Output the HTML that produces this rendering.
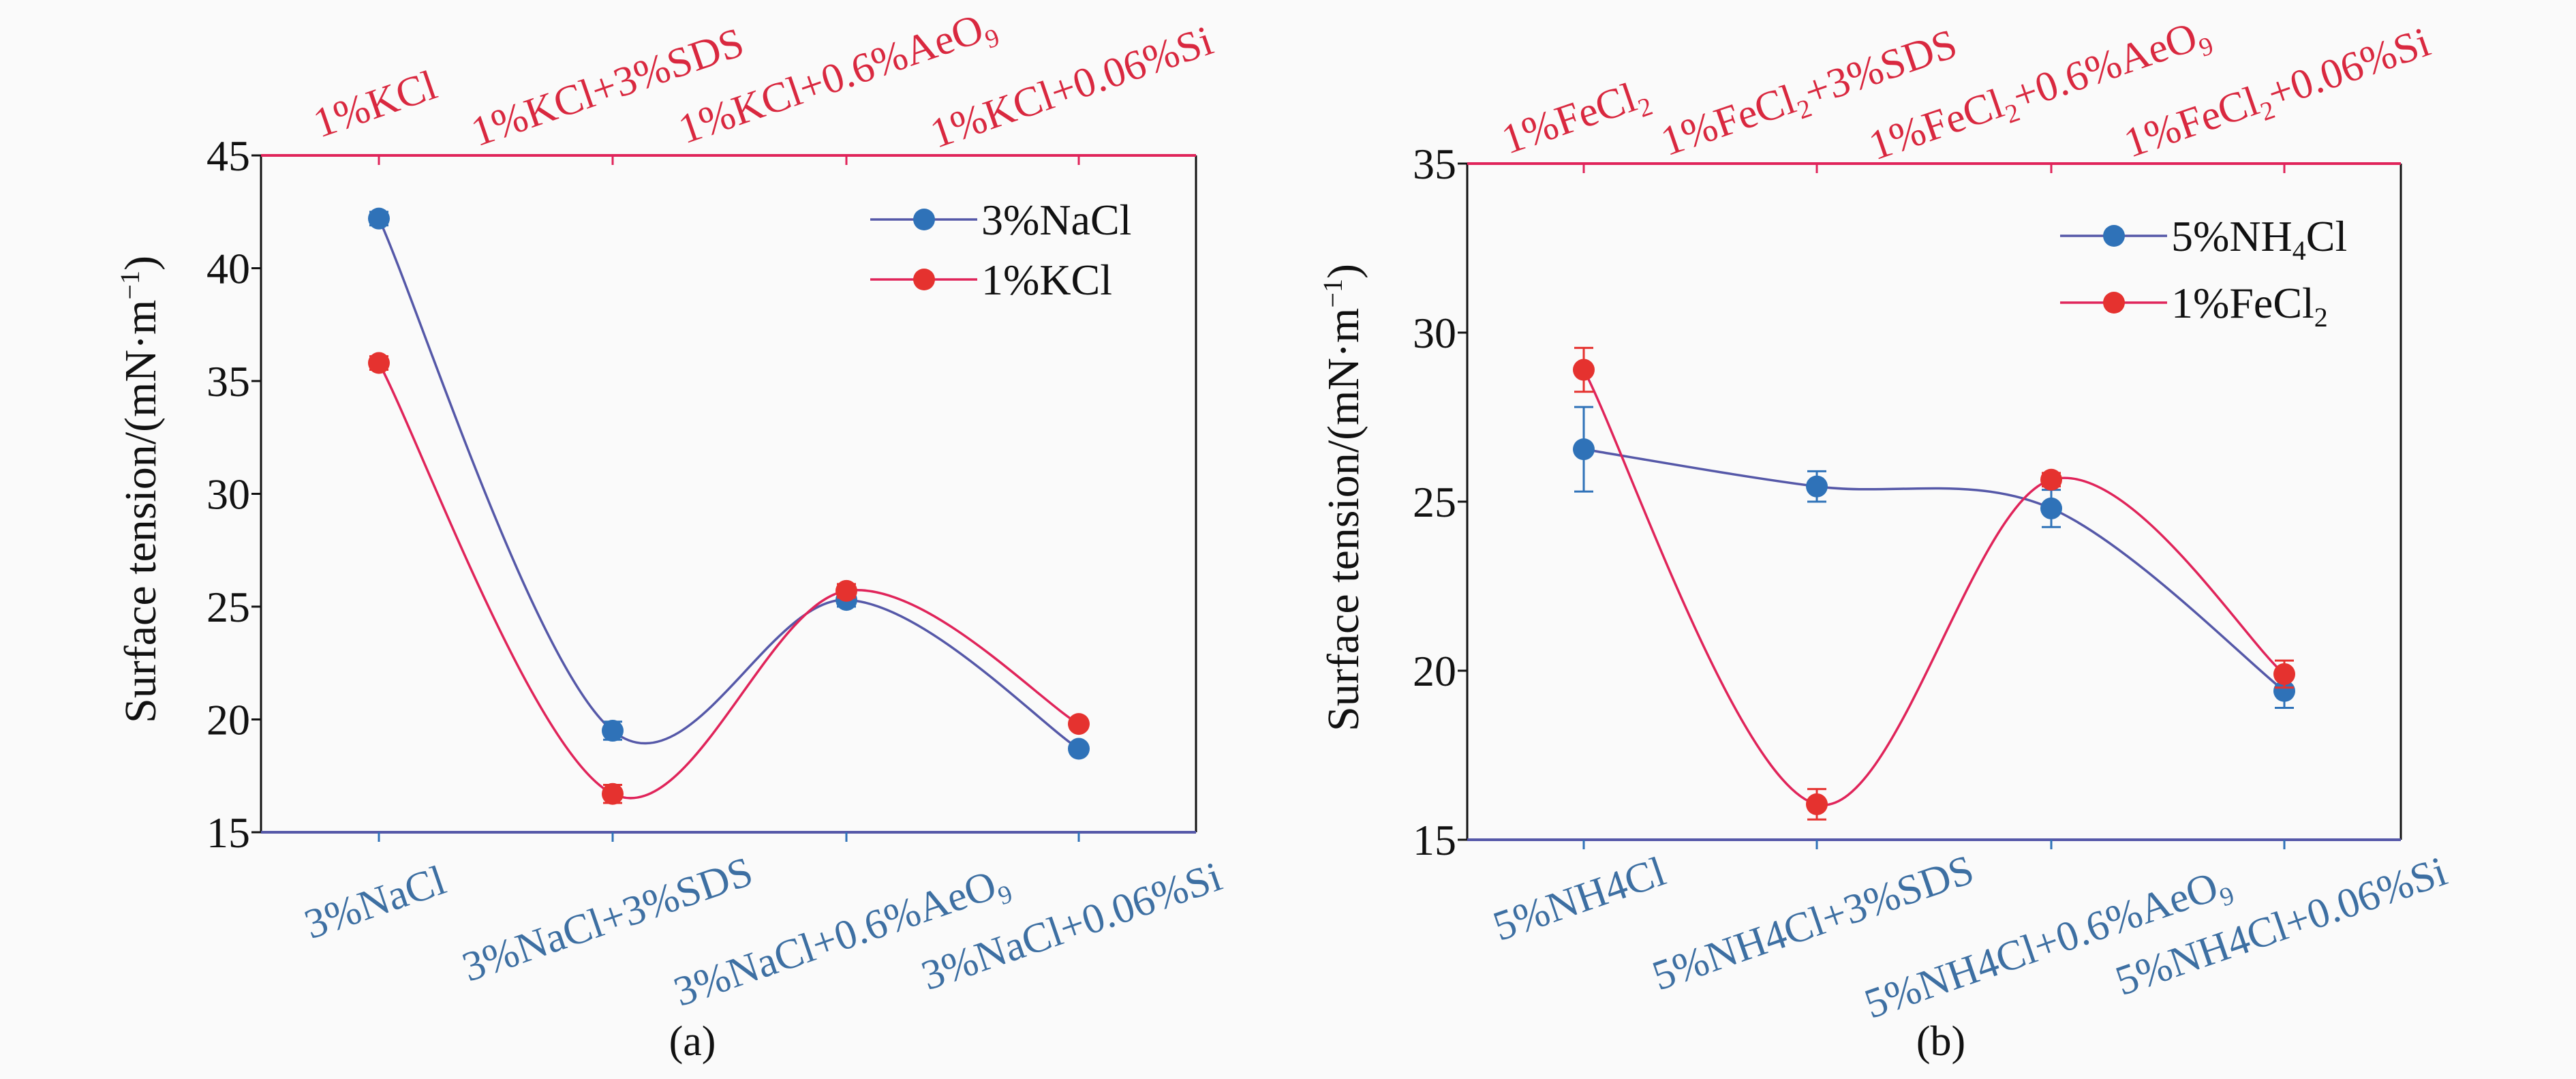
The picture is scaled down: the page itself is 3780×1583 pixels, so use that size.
<!DOCTYPE html>
<html><head><meta charset="utf-8">
<style>
html,body{margin:0;padding:0;background:#fafafa;}
svg{display:block;}
text{font-family:"Liberation Serif","DejaVu Serif","Times New Roman",serif;}
</style></head>
<body>
<svg id="fig" width="3780" height="1583" viewBox="0 0 3780 1583" xmlns="http://www.w3.org/2000/svg" font-family="Liberation Serif, DejaVu Serif, serif">
<rect x="0" y="0" width="3780" height="1583" fill="#fafafa"/>
<g id="ca"></g>
<g id="cb"></g>
</svg>
<script>
// ---------- Chart (a) data ----------
const catsA = ["3%NaCl", "3%NaCl+3%SDS", "3%NaCl+0.6%AeO", "3%NaCl+0.06%Si"];
const subA = ["", "", "9", ""];
const topCatsA = ["1%KCl", "1%KCl+3%SDS", "1%KCl+0.6%AeO", "1%KCl+0.06%Si"];
const topSubA = ["", "", "9", ""];
const naclVals = [42.2, 19.5, 25.3, 18.7];
const naclErr = [0.3, 0.4, 0.3, 0.2];
const kclVals = [35.8, 16.7, 25.7, 19.8];
const kclErr = [0.3, 0.4, 0.3, 0.2];
const ticksA = [15, 20, 25, 30, 35, 40, 45];

// ---------- Chart (b) data ----------
const nh4Vals = [26.55, 25.45, 24.8, 19.4];
const nh4Err = [1.25, 0.45, 0.55, 0.5];
const fecl2Vals = [28.9, 16.05, 25.65, 19.9];
const fecl2Err = [0.65, 0.45, 0.2, 0.4];
const ticksB = [15, 20, 25, 30, 35];

const NS = "http://www.w3.org/2000/svg";
const FONT = '"Liberation Serif", "DejaVu Serif", serif';
const BLUE_LINE = "#5558a8", BLUE_PT = "#2f72b8", RED_LINE = "#e0245a", RED_PT = "#e5322f";
const BLUE_TXT = "#3d6fa2", RED_TXT = "#d9283f";

function mk(parent, tag, attrs, text) {
  const e = document.createElementNS(NS, tag);
  for (const k in attrs) e.setAttribute(k, attrs[k]);
  if (tag === "text") e.setAttribute("font-family", FONT);
  if (text !== undefined) e.textContent = text;
  parent.appendChild(e);
  return e;
}
function spline(pts) {
  let d = "M" + pts[0][0] + "," + pts[0][1];
  for (let i = 0; i < pts.length - 1; i++) {
    const p0 = pts[Math.max(0, i - 1)], p1 = pts[i], p2 = pts[i + 1], p3 = pts[Math.min(pts.length - 1, i + 2)];
    const t = 1 / 6;
    const c1x = p1[0] + (p2[0] - p0[0]) * t, c1y = p1[1] + (p2[1] - p0[1]) * t;
    const c2x = p2[0] - (p3[0] - p1[0]) * t, c2y = p2[1] - (p3[1] - p1[1]) * t;
    d += " C" + c1x + "," + c1y + " " + c2x + "," + c2y + " " + p2[0] + "," + p2[1];
  }
  return d;
}

function labelText(g, x, y, main, sub, color, size, angle, name) {
  const t = mk(g, "text", {x: x, y: y, fill: color, "font-size": size, "text-anchor": "middle",
    transform: "rotate(" + angle + " " + x + " " + y + ")"});
  
  
  const parts = main.split("|");
  parts.forEach((p, i) => {
    if (i % 2 === 1) mk(t, "tspan", {"font-size": size * 0.62, dy: 13}, p);
    else if (i > 0) mk(t, "tspan", {dy: -13}, p);
    else mk(t, "tspan", {}, p);
  });
  if (sub) mk(t, "tspan", {"font-size": size * 0.62, dy: 13}, sub);
  return t;
}

function drawChart(g, cfg) {
  const {L, R, T, B, ymin, ymax, xs, ticks} = cfg;
  const y = v => B - (v - ymin) / (ymax - ymin) * (B - T);
  let e;
  e = mk(g, "line", {x1: L, y1: T, x2: L, y2: B, stroke: "#111", "stroke-width": 3});
   
  e = mk(g, "line", {x1: R, y1: T, x2: R, y2: B, stroke: "#111", "stroke-width": 3});
   
  e = mk(g, "line", {x1: L, y1: T, x2: R, y2: T, stroke: RED_LINE, "stroke-width": 4});
   
  e = mk(g, "line", {x1: L, y1: B, x2: R, y2: B, stroke: BLUE_LINE, "stroke-width": 4});
   
  ticks.forEach(v => {
    const tk = mk(g, "line", {x1: L - 14, y1: y(v), x2: L, y2: y(v), stroke: "#111", "stroke-width": 3});
     
    const tl = mk(g, "text", {x: L - 16, y: y(v) + 22, "text-anchor": "end", "font-size": 64, fill: "#111"}, String(v));
     
  });
  xs.forEach(x => {
    const a = mk(g, "line", {x1: x, y1: T, x2: x, y2: T + 14, stroke: RED_LINE, "stroke-width": 3});
     
    const b = mk(g, "line", {x1: x, y1: B, x2: x, y2: B + 14, stroke: BLUE_PT, "stroke-width": 3});
     
  });
  const yt = mk(g, "text", {x: cfg.ytx, y: cfg.yty, "text-anchor": "middle", "font-size": 66, fill: "#111",
    transform: "rotate(-90 " + cfg.ytx + " " + cfg.yty + ")"});
   
  mk(yt, "tspan", {}, "Surface tension/(mN·m");
  mk(yt, "tspan", {"font-size": 40, dy: -24}, "−1");
  mk(yt, "tspan", {dy: 24}, ")");
  cfg.bottom.forEach((c, i) => labelText(g, c[0], c[1], cfg.bl[i], cfg.bs[i], BLUE_TXT, 62, -19, "x-bottom-label"));
  cfg.top.forEach((c, i) => labelText(g, c[0], c[1], cfg.tl[i], cfg.ts[i], RED_TXT, 62, -19, "x-top-label"));
  cfg.series.forEach(s => {
    const pts = s.vals.map((v, i) => [xs[i], y(v)]);
    const p = mk(g, "path", {d: spline(pts), fill: "none", stroke: s.line, "stroke-width": 3.5});
     
    s.vals.forEach((v, i) => {
      const er = s.err[i];
      const eb = mk(g, "path", {d: "M" + (xs[i] - 14) + "," + y(v + er) + "h28M" + xs[i] + "," + y(v + er) + "V" + y(v - er) + "M" + (xs[i] - 14) + "," + y(v - er) + "h28",
        fill: "none", stroke: s.pt, "stroke-width": 3});
       
      const c = mk(g, "ellipse", {cx: xs[i], cy: y(v), rx: 16, ry: 16, fill: s.pt});
       
    });
  });
  cfg.series.forEach((s, i) => {
    const ly = cfg.leg[1] + i * cfg.legGap;
    const lg = mk(g, "g", {});
     
    mk(lg, "line", {x1: cfg.leg[0], y1: ly, x2: cfg.leg[0] + 157, y2: ly, stroke: s.line, "stroke-width": 3.5});
    mk(lg, "ellipse", {cx: cfg.leg[0] + 79, cy: ly, rx: 16, ry: 16, fill: s.pt});
    const t = mk(lg, "text", {x: cfg.leg[0] + 163, y: ly + 22, "font-size": 64, fill: "#111"});
    const parts = s.label.split("|");
    parts.forEach((p, k) => {
      if (k % 2 === 1) mk(t, "tspan", {"font-size": 40, dy: 13}, p);
      else if (k > 0) mk(t, "tspan", {dy: -13}, p);
      else mk(t, "tspan", {}, p);
    });
  });
  const cap = mk(g, "text", {x: cfg.cap[0], y: cfg.cap[1], "text-anchor": "middle", "font-size": 62, fill: "#111"}, cfg.capText);
   
}

drawChart(document.getElementById("ca"), {
  L: 383, R: 1755, T: 228, B: 1221, ymin: 15, ymax: 45, xs: [556, 899, 1242, 1583], ticks: ticksA,
  ytx: 228, yty: 718,
  bl: catsA, bs: subA, tl: topCatsA, ts: topSubA,
  bottom: [[557, 1343], [898, 1368], [1241, 1393], [1579, 1378]],
  top: [[557, 172], [898, 147], [1235, 132], [1579, 147]],
  series: [
    {name: "nacl", label: "3%NaCl", vals: naclVals, err: naclErr, line: BLUE_LINE, pt: BLUE_PT},
    {name: "kcl", label: "1%KCl", vals: kclVals, err: kclErr, line: RED_LINE, pt: RED_PT}
  ],
  leg: [1277, 322], legGap: 88, cap: [1016, 1548], capText: "(a)"
});

drawChart(document.getElementById("cb"), {
  L: 2153, R: 3523, T: 240, B: 1232, ymin: 15, ymax: 35, xs: [2324, 2666, 3010, 3352], ticks: ticksB,
  ytx: 1993, yty: 730,
  bl: ["5%NH4Cl", "5%NH4Cl+3%SDS", "5%NH4Cl+0.6%AeO", "5%NH4Cl+0.06%Si"], bs: ["", "", "9", ""],
  tl: ["1%FeCl|2|", "1%FeCl|2|+3%SDS", "1%FeCl|2|+0.6%AeO", "1%FeCl|2|+0.06%Si"], ts: ["", "", "9", ""],
  bottom: [[2324, 1338], [2667, 1373], [3011, 1403], [3354, 1378]],
  top: [[2318, 190], [2661, 155], [2999, 150], [3348, 155]],
  series: [
    {name: "nh4cl", label: "5%NH|4|Cl", vals: nh4Vals, err: nh4Err, line: BLUE_LINE, pt: BLUE_PT},
    {name: "fecl2", label: "1%FeCl|2|", vals: fecl2Vals, err: fecl2Err, line: RED_LINE, pt: RED_PT}
  ],
  leg: [3023, 346], legGap: 98, cap: [2848, 1548], capText: "(b)"
});
</script>
</body></html>
